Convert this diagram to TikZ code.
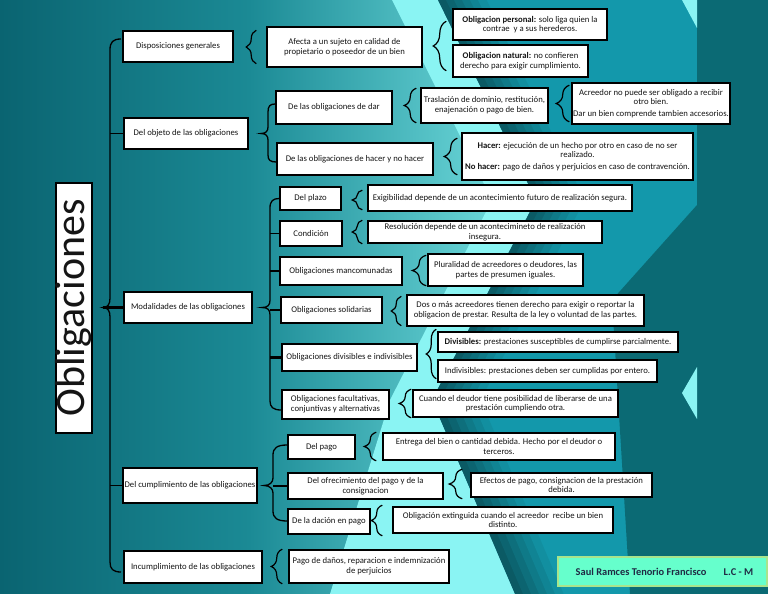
\documentclass[tikz,border=0pt]{standalone}
\usepackage{fontspec}
\setmainfont{Carlito}
\usetikzlibrary{decorations.pathreplacing}
\definecolor{bgA}{HTML}{0A6471}
\definecolor{bgB}{HTML}{1B8A95}
\definecolor{bgD}{HTML}{6AD6D8}
\definecolor{bright}{HTML}{8AF4F3}
\definecolor{mid}{HTML}{1398AB}
\definecolor{dark}{HTML}{0B6A74}
\definecolor{shad}{HTML}{0B5A64}
\definecolor{sigfill}{HTML}{66FFCC}
\definecolor{sigline}{HTML}{A8E48C}
\definecolor{sigtext}{HTML}{1F2A44}
\definecolor{txt}{HTML}{151515}
\newcommand{\fsz}{\fontsize{8.7}{9.6}\selectfont}
\tikzset{
  box/.style={draw=black, fill=white, line width=1.5pt, align=center, font=\fsz, text=txt, inner sep=0.5pt},
  bx/.style 2 args={box, minimum width=#1, minimum height=#2},
  bline/.style={line width=1.3pt, draw=black},
  cb/.style={line width=1.2pt, draw=black, decorate, decoration={brace, amplitude=#1}},
}
\begin{document}
\begin{tikzpicture}[x=1pt,y=-1pt]
\useasboundingbox (0,0) rectangle (768,594);
% ---------- background ----------
\fill[mid] (0,0) rectangle (768,594);
\begin{scope}
  \clip (0,0) -- (394,0) -- (494,200) -- (392,400) -- (332,594) -- (0,594) -- cycle;
  \shade[left color=bgA, right color=bgB] (0,0) rectangle (250,594);
  \shade[left color=bgB, right color=bgD] (249,0) rectangle (495,594);
\end{scope}
\fill[bright] (392,0) -- (438,0) -- (536,200) -- (432,400) -- (515,594) -- (330,594) -- (390,400) -- (492,200) -- cycle;
\foreach \k in {0,...,5}{
  \pgfmathsetmacro{\pa}{8*\k}
  \pgfmathsetmacro{\pb}{8*\k+8.6}
  \pgfmathsetmacro{\pc}{100-\k*17}
  \fill[shad!\pc!mid] ({438+\pa},0) -- ({536+\pa},200) -- ({432+\pa},400) -- ({515+\pa},594)
     -- ({515+\pb},594) -- ({432+\pb},400) -- ({536+\pb},200) -- ({438+\pb},0) -- cycle;
}
\fill[dark] (697,0) -- (768,0) -- (768,594) -- (630,594) -- (612,300) -- (697,205) -- cycle;
\fill[bright] (682,0) -- (697,0) -- (697,28) -- cycle;
\fill[bright] (697,367) -- (682,393) -- (697,419) -- cycle;

% ---------- nodes ----------
\node[box, rotate=90, minimum width=250, minimum height=34, inner sep=0pt,
      font=\fontsize{42}{42}\selectfont] (root) at (74,308) {Obligaciones};

\node[bx={110}{31}] (disp) at (178,46.5) {Disposiciones generales};
\node[bx={124}{31}] (objeto) at (186,133.5) {Del objeto de las obligaciones};
\node[bx={128}{31}] (modal) at (188,307.5) {Modalidades de las obligaciones};
\node[bx={134}{35}] (cumpl) at (190,485.5) {Del cumplimiento de las obligaciones};
\node[bx={138}{32}] (incum) at (193,567) {Incumplimiento de las obligaciones};

\node[bx={155}{40}] (afecta) at (344.5,47) {Afecta a un sujeto en calidad de\\propietario o poseedor de un bien};
\node[bx={154}{31}] (personal) at (530,24.5) {\textbf{Obligacion personal:} solo liga quien la\\contrae\ \ y a sus herederos.};
\node[bx={135}{32}] (natural) at (520.5,61) {\textbf{Obligacion natural:} no confieren\\derecho para exigir cumplimiento.};

\node[bx={116}{33}] (dar) at (334,107.5) {De las obligaciones de dar};
\node[bx={156}{32}] (hacer) at (355,159) {De las obligaciones de hacer y no hacer};
\node[bx={127}{35}] (trasl) at (484.5,105.5) {Traslación de dominio, restitución,\\enajenación o pago de bien.};
\node[bx={158}{41}] (acreedor) at (651,103.5) {Acreedor no puede ser obligado a recibir\\otro bien.\\[2pt]Dar un bien comprende tambien accesorios.};
\node[bx={231}{47}] (hacerbox) at (577.5,156.5) {\textbf{Hacer:} ejecución de un hecho por otro en caso de no ser\\realizado.\\[2pt]\textbf{No hacer:} pago de daños y perjuicios en caso de contravención.};

\node[bx={61}{23}] (plazo) at (310.5,198.5) {Del plazo};
\node[bx={62}{25}] (cond) at (311,233.5) {Condición};
\node[bx={122}{28}] (manc) at (341,271) {Obligaciones mancomunadas};
\node[bx={101}{26}] (solid) at (331.5,310) {Obligaciones solidarias};
\node[bx={135}{27}] (divis) at (349.5,357.5) {Obligaciones divisibles e indivisibles};
\node[bx={107}{29}] (facul) at (335.5,404.5) {Obligaciones facultativas,\\conjuntivas y alternativas};

\node[bx={264}{26}] (exig) at (500,198) {Exigibilidad depende de un acontecimiento futuro de realización segura.};
\node[bx={234}{22}] (resol) at (485,232) {Resolución depende de un acontecimineto de realización\\insegura.};
\node[bx={155}{32}] (plural) at (505.5,270) {Pluralidad de acreedores o deudores, las\\partes de presumen iguales.};
\node[bx={237}{31}] (dos) at (525.5,310.5) {Dos o más acreedores tienen derecho para exigir o reportar la\\obligacion de prestar. Resulta de la ley o voluntad de las partes.};
\node[bx={240}{20}] (divb) at (558,342) {\textbf{Divisibles:} prestaciones susceptibles de cumplirse parcialmente.};
\node[bx={219}{22}] (indivb) at (547.5,371) {Indivisibles: prestaciones deben ser cumplidas por entero.};
\node[bx={205}{27}] (cuando) at (515.5,403.5) {Cuando el deudor tiene posibilidad de liberarse de una\\prestación cumpliendo otra.};

\node[bx={67}{24}] (pago) at (321.5,447) {Del pago};
\node[bx={155}{26}] (ofrec) at (365.5,486) {Del ofrecimiento del pago y de la\\consignacion};
\node[bx={82}{25}] (dacion) at (329,521.5) {De la dación en pago};
\node[bx={232}{27}] (entrega) at (499,446.5) {Entrega del bien o cantidad debida. Hecho por el deudor o\\terceros.};
\node[bx={181}{24}] (efectos) at (561.5,485) {Efectos de pago, consignacion de la prestación\\debida.};
\node[bx={220}{26}] (extinguida) at (503,520) {Obligación extinguida cuando el acreedor\ \ recibe un bien\\distinto.};
\node[bx={160}{33}] (danos) at (369,566.5) {Pago de daños, reparacion e indemnización\\de perjuicios};

\node[draw=sigline, fill=sigfill, line width=1.5pt, minimum width=209, minimum height=29,
      font=\fontsize{10.4}{12}\selectfont\bfseries, text=sigtext] (sig) at (662.5,571.5)
      {\hspace{4pt}Saul Ramces Tenorio Francisco\hspace{17pt}L.C - M};

% ---------- main brace ----------
\coordinate (mtip) at (103,307.5);
\coordinate (mline) at (110,307.5);
\draw[bline] (121,39) .. controls (113,39) and (110,42) .. (110,50) -- (110,298)
  .. controls (110,304) and (108,307.5) .. (mtip) .. controls (108,307.5) and (110,311) .. (110,317)
  -- (110,562) .. controls (110,569) and (113,572) .. (121,572);
\draw[bline] (objeto.west) -- (objeto.west -| mline);
\draw[bline, line width=2.4pt] (modal.west) -- (mtip);
\draw[bline] (cumpl.west) -- (cumpl.west -| mline);

% ---------- objeto brace ----------
\draw[bline] (dar.west |- 0,104) .. controls (270,104) and (268,106) .. (268,112) -- (268,127)
  .. controls (268,131) and (266,133.5) .. (261,133.5) .. controls (266,133.5) and (268,136) .. (268,140)
  -- (268,155) .. controls (268,160) and (270,162) .. (hacer.west |- 0,162);

% ---------- modalidades brace ----------
\coordinate (mdline) at (270,307.5);
\draw[bline] (plazo.west) .. controls (273,198.5) and (270,201) .. (270,208) -- (270,300)
  .. controls (270,305) and (268,307.5) .. (262,307.5) .. controls (268,307.5) and (270,310) .. (270,315)
  -- (270,401) .. controls (270,407) and (273,410) .. (facul.west |- 0,410);
\draw[line width=0.9pt] (cond.west) -- (cond.west -| mdline);
\draw[bline, line width=1.8pt] (manc.west) -- (manc.west -| mdline);
\draw[bline, line width=1.8pt] (solid.west) -- (solid.west -| mdline);
\draw[bline, line width=2.6pt] (divis.west) -- (divis.west -| mdline);

% ---------- cumplimiento brace ----------
\coordinate (cline) at (273,485.5);
\draw[bline] (pago.west |- 0,445) .. controls (277,445) and (273,448) .. (273,455) -- (273,478)
  .. controls (273,482) and (270,485.5) .. (264,485.5) .. controls (270,485.5) and (273,489) .. (273,493)
  -- (273,511) .. controls (273,518) and (277,521) .. (dacion.west |- 0,521);
\draw[bline] (ofrec.west) -- (ofrec.west -| cline);

% ---------- curly braces ----------
\draw[cb=10pt] ([xshift=-10pt,yshift=4pt]afecta.south west) -- ([xshift=-10pt,yshift=-4pt]afecta.north west);
\draw[cb=13pt] ([xshift=-6pt,yshift=7pt]natural.south west) -- ([xshift=-6pt,yshift=-13pt]personal.north west);
\draw[cb=12pt] ([xshift=-4pt,yshift=1pt]trasl.south west) -- ([xshift=-4pt,yshift=-1pt]trasl.north west);
\draw[cb=13pt] ([xshift=-2pt,yshift=3pt]acreedor.south west) -- ([xshift=-2pt,yshift=-3pt]acreedor.north west);
\draw[cb=13pt] ([xshift=-4pt,yshift=6pt]hacerbox.south west) -- ([xshift=-4pt,yshift=-6pt]hacerbox.north west);
\draw[cb=10pt] ([xshift=-5pt,yshift=2pt]exig.south west) -- ([xshift=-5pt,yshift=-6pt]exig.north west);
\draw[cb=10pt] ([xshift=-5pt]resol.south west) -- ([xshift=-5pt]resol.north west);
\draw[cb=14pt] ([xshift=-1pt,yshift=1pt]plural.south west) -- ([xshift=-1pt,yshift=-2pt]plural.north west);
\draw[cb=10pt] ([xshift=-5pt,yshift=1pt]dos.south west) -- ([xshift=-5pt,yshift=-2pt]dos.north west);
\draw[cb=10pt] ([xshift=-1pt,yshift=4pt]indivb.south west) -- ([xshift=-1pt,yshift=2pt]divb.north west);
\draw[cb=12pt] ([xshift=-1pt]cuando.south west) -- ([xshift=-1pt]cuando.north west);
\draw[cb=12pt] ([xshift=-6pt]entrega.south west) -- ([xshift=-6pt]entrega.north west);
\draw[cb=13pt] ([xshift=-8pt,yshift=-1pt]efectos.south west) -- ([xshift=-8pt,yshift=3pt]efectos.north west);
\draw[cb=11pt] ([xshift=-10pt,yshift=-2pt]extinguida.south west) -- ([xshift=-10pt,yshift=1pt]extinguida.north west);
\draw[cb=11pt] ([xshift=-6pt]danos.south west) -- ([xshift=-6pt]danos.north west);
\end{tikzpicture}
\end{document}
